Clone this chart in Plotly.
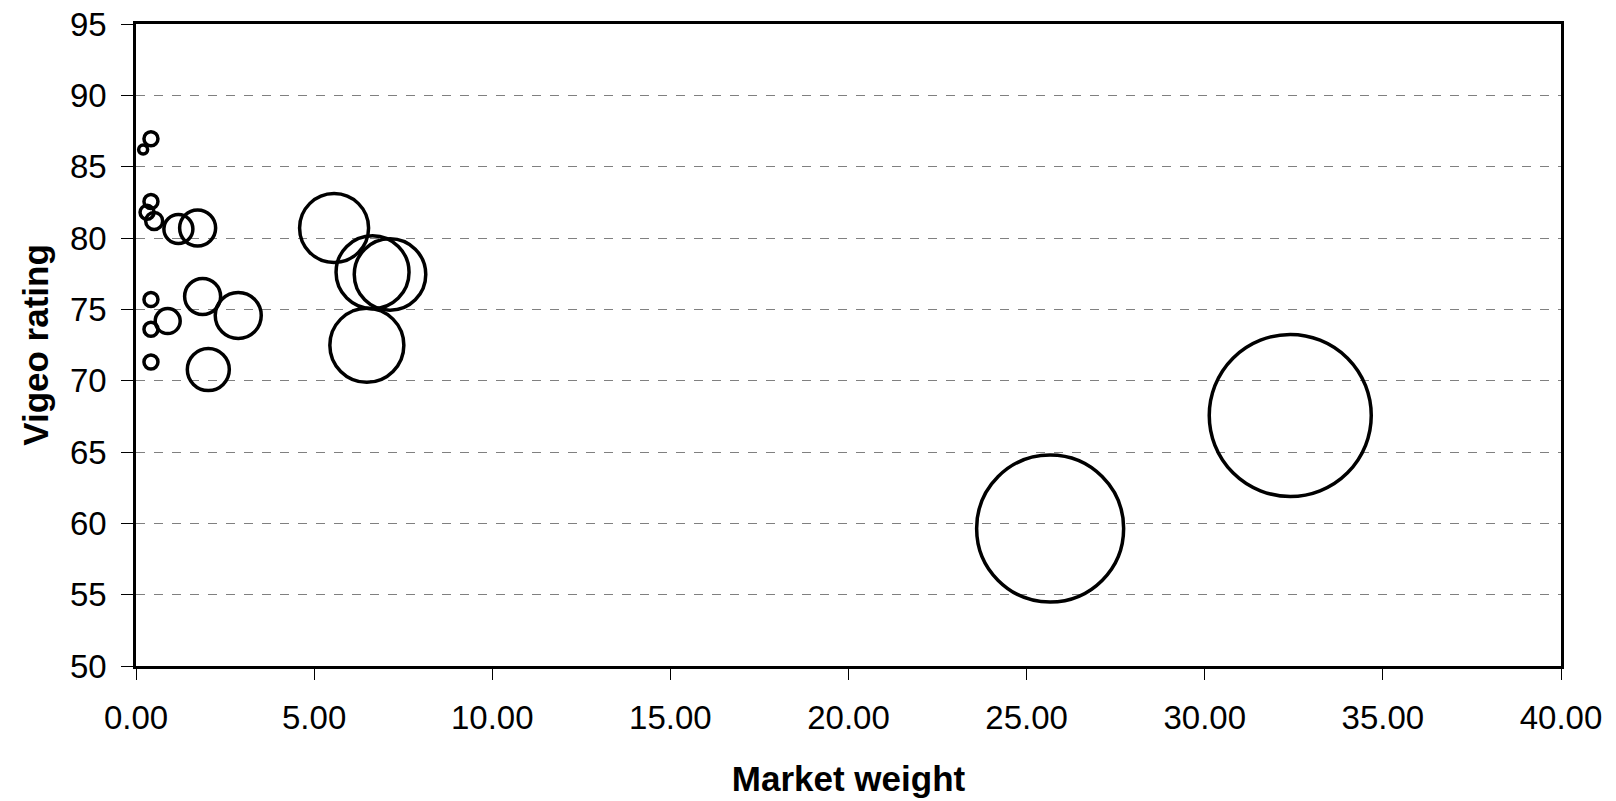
import plotly.graph_objects as go

# Market weight (x), Vigeo rating (y), bubble diameter (px)
market_weight = [0.20, 0.42, 0.42, 0.31, 0.51, 1.19, 1.73, 0.42, 0.42, 0.89, 0.42,
                 1.87, 2.87, 2.03, 5.56, 6.64, 7.13, 6.48, 25.66, 32.40]
vigeo_rating = [86.2, 86.96, 82.56, 81.8, 81.2, 80.63, 80.70, 75.69, 73.6, 74.18, 71.31,
                75.9, 74.57, 70.78, 80.7, 77.6, 77.44, 72.48, 59.64, 67.56]
bubble_size = [9, 14, 14, 14, 17, 29, 36, 14, 14, 25, 14,
               36, 46, 42, 69, 73, 71.5, 74, 147, 162]

x_ticks = [0, 5, 10, 15, 20, 25, 30, 35, 40]
y_ticks = [50, 55, 60, 65, 70, 75, 80, 85, 90, 95]

fig = go.Figure()
fig.add_trace(go.Scatter(
    x=market_weight, y=vigeo_rating, mode="markers",
    marker=dict(size=bubble_size, sizemode="diameter", color="rgba(0,0,0,0)",
                opacity=1, line=dict(color="black", width=3.5)),
    showlegend=False, hoverinfo="x+y",
))

font_family = "Liberation Sans, Arial, sans-serif"
fig.update_layout(
    width=1616, height=801,
    margin=dict(l=136, r=55, t=24, b=135),
    paper_bgcolor="white", plot_bgcolor="white",
    font=dict(family=font_family, color="black", size=33),
    xaxis=dict(range=[0, 40], tickvals=x_ticks, tickformat=".2f", automargin=False,
               showgrid=False, zeroline=False, showline=True, linecolor="black",
               linewidth=2.5, mirror=True, ticks="outside", ticklen=11, tickcolor="black",
               tickwidth=1, tickfont=dict(size=33), ticklabelstandoff=10,
               ticklabeloverflow="allow",
               title=dict(text="<b>Market weight</b>", font=dict(size=35), standoff=32)),
    yaxis=dict(range=[50, 95], tickvals=y_ticks, automargin=False,
               showgrid=True, gridcolor="#808080", griddash="dash", gridwidth=1,
               zeroline=False, showline=True, linecolor="black",
               linewidth=2.5, mirror=True, ticks="outside", ticklen=12, tickcolor="black",
               tickwidth=1, tickfont=dict(size=33), ticklabelstandoff=8,
               ticklabeloverflow="allow",
               title=dict(text="<b>Vigeo rating</b>", font=dict(size=35), standoff=11)),
)

fig.write_html("out.html", config={"displayModeBar": False},
               post_script="document.body.style.margin='0';document.body.style.overflow='hidden';")
